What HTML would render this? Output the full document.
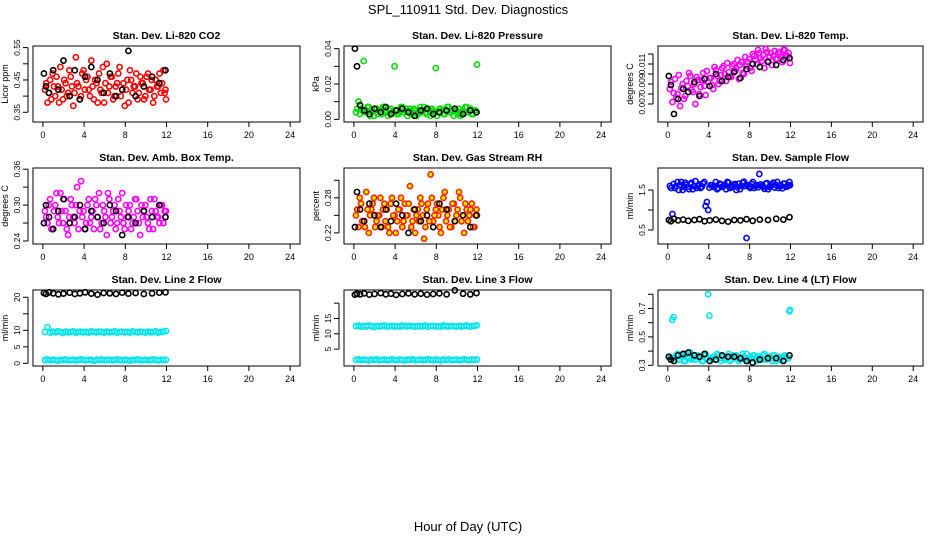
<!DOCTYPE html>
<html><head><meta charset="utf-8"><style>
body{margin:0;background:#fff;}
svg{display:block;font-family:"Liberation Sans",sans-serif;}
</style></head><body>
<svg id="c" width="936" height="540">
<text x="468" y="14" text-anchor="middle" font-size="13">SPL_110911  Std. Dev. Diagnostics</text>
<text x="468" y="531" text-anchor="middle" font-size="13">Hour of Day (UTC)</text>
</svg>
<script>
const tMain=[0.2,0.45,0.7,0.95,1.2,1.45,1.7,1.95,2.2,2.45,2.7,2.95,3.2,3.45,3.7,3.95,4.2,4.45,4.7,4.95,5.2,5.45,5.7,5.95,6.2,6.45,6.7,6.95,7.2,7.45,7.7,7.95,8.2,8.45,8.7,8.95,9.2,9.45,9.7,9.95,10.2,10.45,10.7,10.95,11.2,11.45,11.7,11.95];
const tSub=[0.32,0.57,0.82,1.07,1.32,1.57,1.82,2.07,2.32,2.57,2.82,3.07,3.32,3.57,3.82,4.07,4.32,4.57,4.82,5.07,5.32,5.57,5.82,6.07,6.32,6.57,6.82,7.07,7.32,7.57,7.82,8.07,8.32,8.57,8.82,9.07,9.32,9.57,9.82,10.07,10.32,10.57,10.82,11.07,11.32,11.57,11.82,11.9];
const tBlack=[0.1,0.3,0.6,1.0,1.5,2.0,2.6,3.1,3.6,4.1,4.7,5.3,5.9,6.5,7.1,7.7,8.3,9.0,9.8,10.6,11.3,11.9];
const xTicks=[0,4,8,12,16,20,24];

const co2Red=[0.42,0.38,0.45,0.47,0.40,0.43,0.49,0.39,0.44,0.41,0.46,0.37,0.52,0.43,0.40,0.48,0.45,0.42,0.51,0.39,0.44,0.47,0.41,0.38,0.50,0.43,0.46,0.40,0.44,0.49,0.42,0.37,0.45,0.48,0.41,0.43,0.39,0.46,0.44,0.40,0.47,0.42,0.38,0.45,0.43,0.41,0.48,0.39];
const co2Red2=[0.44,0.41,0.39,0.43,0.46,0.38,0.42,0.45,0.40,0.48,0.43,0.41,0.44,0.39,0.47,0.42,0.46,0.40,0.43,0.45,0.38,0.42,0.49,0.44,0.41,0.46,0.39,0.43,0.47,0.40,0.44,0.42,0.38,0.45,0.43,0.47,0.41,0.44,0.39,0.46,0.42,0.45,0.40,0.43,0.47,0.44,0.41,0.42];
const co2Black=[0.47,0.43,0.41,0.48,0.42,0.51,0.40,0.48,0.39,0.46,0.49,0.45,0.41,0.47,0.40,0.42,0.54,0.40,0.43,0.46,0.44,0.48];
const presGreen=[0.004,0.010,0.006,0.033,0.005,0.007,0.004,0.002,0.006,0.005,0.003,0.007,0.004,0.005,0.004,0.030,0.003,0.004,0.007,0.005,0.002,0.006,0.004,0.005,0.003,0.007,0.005,0.004,0.006,0.002,0.005,0.029,0.004,0.006,0.003,0.005,0.007,0.004,0.002,0.005,0.006,0.003,0.004,0.007,0.005,0.003,0.005,0.031];
const presGreen2=[0.006,0.003,0.005,0.004,0.007,0.002,0.005,0.006,0.003,0.004,0.007,0.005,0.002,0.006,0.004,0.005,0.003,0.007,0.004,0.006,0.005,0.003,0.006,0.002,0.005,0.004,0.007,0.003,0.005,0.006,0.004,0.002,0.006,0.005,0.003,0.007,0.004,0.005,0.006,0.003,0.002,0.005,0.007,0.004,0.006,0.003,0.005,0.004];
const presBlack=[0.040,0.030,0.008,0.005,0.003,0.006,0.004,0.007,0.003,0.005,0.006,0.004,0.002,0.005,0.006,0.003,0.004,0.005,0.006,0.003,0.005,0.004];
const tempMag=[0.0085,0.0072,0.0095,0.0080,0.0068,0.0090,0.0078,0.0088,0.0098,0.0082,0.0070,0.0094,0.0087,0.0101,0.0079,0.0092,0.0096,0.0085,0.0104,0.0090,0.0099,0.0108,0.0093,0.0102,0.0097,0.0110,0.0105,0.0095,0.0112,0.0100,0.0108,0.0115,0.0103,0.0118,0.0110,0.0121,0.0113,0.0106,0.0122,0.0117,0.0109,0.0123,0.0115,0.0120,0.0112,0.0124,0.0118,0.0111];
const tempMag2=[0.0092,0.0081,0.0076,0.0099,0.0086,0.0075,0.0093,0.0101,0.0084,0.0090,0.0097,0.0080,0.0094,0.0088,0.0103,0.0096,0.0089,0.0107,0.0098,0.0093,0.0106,0.0100,0.0111,0.0097,0.0108,0.0103,0.0114,0.0109,0.0101,0.0117,0.0112,0.0106,0.0120,0.0114,0.0124,0.0116,0.0119,0.0125,0.0113,0.0121,0.0118,0.0115,0.0122,0.0117,0.0124,0.0119,0.0121,0.0116];
const tempBlack=[0.0098,0.0089,0.0060,0.0075,0.0085,0.0082,0.0092,0.0078,0.0095,0.0088,0.0100,0.0093,0.0097,0.0102,0.0096,0.0105,0.0110,0.0107,0.0112,0.0109,0.0114,0.0116];
const boxMag=[0.29,0.27,0.31,0.26,0.30,0.28,0.32,0.27,0.29,0.25,0.31,0.28,0.30,0.26,0.34,0.29,0.27,0.31,0.28,0.26,0.30,0.32,0.27,0.29,0.25,0.31,0.28,0.30,0.27,0.29,0.32,0.26,0.28,0.30,0.27,0.31,0.29,0.25,0.28,0.30,0.27,0.31,0.26,0.29,0.28,0.30,0.27,0.29];
const boxMag2=[0.28,0.30,0.26,0.29,0.32,0.27,0.29,0.31,0.26,0.28,0.30,0.27,0.33,0.29,0.28,0.26,0.30,0.27,0.29,0.31,0.28,0.26,0.30,0.28,0.32,0.27,0.29,0.26,0.31,0.28,0.27,0.30,0.29,0.26,0.28,0.31,0.27,0.30,0.29,0.28,0.26,0.29,0.31,0.28,0.27,0.30,0.29,0.28];
const boxBlack=[0.27,0.30,0.28,0.26,0.29,0.31,0.27,0.28,0.30,0.26,0.29,0.28,0.27,0.30,0.29,0.25,0.28,0.27,0.29,0.28,0.30,0.28];
const rhOrange=[0.25,0.23,0.27,0.24,0.29,0.22,0.26,0.28,0.24,0.25,0.23,0.27,0.26,0.22,0.28,0.25,0.24,0.26,0.23,0.27,0.25,0.30,0.24,0.22,0.26,0.28,0.25,0.23,0.27,0.32,0.24,0.26,0.25,0.22,0.28,0.24,0.26,0.23,0.27,0.25,0.29,0.24,0.22,0.26,0.25,0.27,0.23,0.25];
const rhOrange2=[0.26,0.28,0.24,0.23,0.26,0.25,0.27,0.23,0.25,0.28,0.26,0.24,0.23,0.27,0.25,0.22,0.26,0.28,0.24,0.25,0.27,0.23,0.26,0.25,0.24,0.27,0.21,0.26,0.24,0.28,0.25,0.27,0.23,0.26,0.29,0.25,0.23,0.27,0.24,0.26,0.28,0.25,0.27,0.24,0.26,0.23,0.25,0.26];
const rhBlack=[0.23,0.29,0.26,0.24,0.27,0.25,0.23,0.26,0.24,0.27,0.25,0.22,0.26,0.24,0.25,0.23,0.27,0.26,0.24,0.25,0.23,0.25];
const flowBlue=[1.6,0.9,1.55,1.7,1.62,1.5,1.68,1.58,1.65,1.52,1.72,1.6,1.55,1.66,1.1,1.0,1.62,1.58,1.7,1.55,1.64,1.6,1.52,1.68,1.57,1.63,1.5,1.66,1.6,1.71,0.3,1.58,1.65,1.55,1.62,1.9,1.6,1.53,1.67,1.58,1.64,1.56,1.7,1.6,1.54,1.66,1.59,1.62];
const flowBlue2=[1.55,1.65,1.6,1.5,1.7,1.58,1.63,1.52,1.68,1.6,1.55,1.64,1.58,1.7,1.2,1.56,1.62,1.6,1.52,1.66,1.58,1.63,1.7,1.55,1.6,1.65,1.57,1.52,1.68,1.6,1.62,1.55,1.7,1.6,1.57,1.64,1.58,1.66,1.52,1.6,1.68,1.63,1.55,1.6,1.66,1.58,1.62,1.7];
const flowBlack=[0.75,0.72,0.78,0.74,0.76,0.73,0.75,0.77,0.72,0.74,0.76,0.73,0.71,0.75,0.74,0.77,0.73,0.76,0.75,0.78,0.76,0.82];
const l2CyanA=[9.5,11,9.3,9.6,9.4,9.7,9.5,9.2,9.6,9.4,9.5,9.7,9.3,9.5,9.6,9.4,9.5,9.3,9.7,9.5,9.4,9.6,9.5,9.3,9.6,9.4,9.5,9.7,9.3,9.5,9.6,9.4,9.5,9.3,9.7,9.5,9.4,9.6,9.5,9.3,9.6,9.4,9.5,9.7,9.3,9.5,9.6,9.8];
const l2CyanB=[1.0,1.2,0.9,1.1,1.0,0.8,1.1,1.0,1.2,0.9,1.0,1.1,0.9,1.0,1.2,1.0,0.9,1.1,1.0,0.8,1.1,1.0,1.2,0.9,1.0,1.1,0.9,1.0,1.2,1.0,0.9,1.1,1.0,0.8,1.1,1.0,1.2,0.9,1.0,1.1,0.9,1.0,1.2,1.0,0.9,1.1,1.0,1.1];
const l2Black=[21.3,21,21.5,21.2,20.9,21.1,21.4,21,21.2,21.5,21.1,20.8,21.3,21.2,21,21.4,21.1,21.3,21.0,21.2,21.4,21.5];
const l3CyanA=[12.5,12.7,12.3,12.6,12.4,12.7,12.5,12.2,12.6,12.4,12.5,12.7,12.3,12.5,12.6,12.4,12.5,12.3,12.7,12.5,12.4,12.6,12.5,12.3,12.6,12.4,12.5,12.7,12.3,12.5,12.6,12.4,12.5,12.3,12.7,12.5,12.4,12.6,12.5,12.3,12.6,12.4,12.5,12.7,12.3,12.5,12.6,12.8];
const l3CyanB=[1.5,1.7,1.4,1.6,1.5,1.3,1.6,1.5,1.7,1.4,1.5,1.6,1.4,1.5,1.7,1.5,1.4,1.6,1.5,1.3,1.6,1.5,1.7,1.4,1.5,1.6,1.4,1.5,1.7,1.5,1.4,1.6,1.5,1.3,1.6,1.5,1.7,1.4,1.5,1.6,1.4,1.5,1.7,1.5,1.4,1.6,1.5,1.6];
const l3Black=[22.8,23.1,22.9,23.2,22.8,23.0,23.3,22.9,23.1,22.7,23.0,23.2,22.9,23.1,22.8,23.0,23.2,22.9,24.2,23.1,22.9,23.3];
const l4Cyan=[0.36,0.62,0.35,0.38,0.34,0.37,0.33,0.36,0.39,0.35,0.34,0.37,0.36,0.33,0.38,0.80,0.35,0.36,0.34,0.37,0.33,0.36,0.35,0.38,0.34,0.36,0.37,0.33,0.35,0.36,0.38,0.34,0.35,0.37,0.33,0.36,0.34,0.38,0.35,0.36,0.33,0.37,0.35,0.34,0.36,0.37,0.35,0.69];
const l4Cyan2=[0.35,0.64,0.37,0.34,0.36,0.33,0.38,0.35,0.34,0.37,0.36,0.35,0.33,0.37,0.35,0.65,0.34,0.36,0.38,0.35,0.37,0.34,0.36,0.33,0.37,0.35,0.36,0.34,0.38,0.35,0.33,0.36,0.37,0.34,0.36,0.35,0.37,0.34,0.36,0.35,0.37,0.33,0.36,0.35,0.34,0.36,0.35,0.68];
const l4Black=[0.36,0.34,0.33,0.37,0.38,0.39,0.37,0.36,0.38,0.33,0.34,0.37,0.36,0.36,0.35,0.33,0.32,0.34,0.35,0.35,0.33,0.37];

const panels=[
 {name:'co2',title:'Stan. Dev. Li-820 CO2',ylab:'Licor ppm',col:0,row:0,yl:[0.32,0.555],yt:[0.35,0.40,0.45,0.50,0.55],ytl:['0.35','','0.45','','0.55'],
  s:[[tMain,co2Red,'#ff0000',null],[tSub,co2Red2,'#ff0000',null],[tBlack,co2Black,'#000',null]]},
 {name:'pressure',title:'Stan. Dev. Li-820 Pressure',ylab:'kPa',col:1,row:0,yl:[-0.0015,0.0415],yt:[0,0.01,0.02,0.03,0.04],ytl:['0.00','','0.02','','0.04'],
  s:[[tMain,presGreen,'#00dd00',null],[tSub,presGreen2,'#00dd00',null],[tBlack,presBlack,'#000',null]]},
 {name:'temp',title:'Stan. Dev. Li-820 Temp.',ylab:'degrees C',col:2,row:0,yl:[0.0052,0.0128],yt:[0.007,0.008,0.009,0.010,0.011,0.012],ytl:['0.007','','0.009','','0.011',''],
  s:[[tMain,tempMag,'#ff00ff',null],[tSub,tempMag2,'#ff00ff',null],[tBlack,tempBlack,'#000',null]]},
 {name:'box-temp',title:'Stan. Dev. Amb. Box Temp.',ylab:'degrees C',col:0,row:1,yl:[0.235,0.362],yt:[0.24,0.27,0.30,0.33,0.36],ytl:['0.24','','0.30','','0.36'],
  s:[[tMain,boxMag,'#ff00ff',null],[tSub,boxMag2,'#ff00ff',null],[tBlack,boxBlack,'#000',null]]},
 {name:'gas-rh',title:'Stan. Dev. Gas Stream RH',ylab:'percent',col:1,row:1,yl:[0.201,0.331],yt:[0.22,0.25,0.28,0.31],ytl:['0.22','','0.28',''],
  s:[[tMain,rhOrange,'#ff2200','#ffee00'],[tSub,rhOrange2,'#ff2200','#ffee00'],[tBlack,rhBlack,'#000',null]]},
 {name:'sample-flow',title:'Stan. Dev. Sample Flow',ylab:'ml/min',col:2,row:1,yl:[0.15,2.05],yt:[0.5,1.0,1.5],ytl:['0.5','','1.5'],
  s:[[tMain,flowBlue,'#0000ff',null],[tSub,flowBlue2,'#0000ff',null],[tBlack,flowBlack,'#000',null]]},
 {name:'line2-flow',title:'Stan. Dev. Line 2 Flow',ylab:'ml/min',col:0,row:2,yl:[-0.8,22.2],yt:[0,5,10,15,20],ytl:['0','5','10','','20'],
  s:[[tMain,l2CyanA,'#00e5ee',null],[tMain,l2CyanB,'#00e5ee',null],[tBlack,l2Black,'#000',null]]},
 {name:'line3-flow',title:'Stan. Dev. Line 3 Flow',ylab:'ml/min',col:1,row:2,yl:[-0.5,24.3],yt:[5,10,15,20],ytl:['5','10','15',''],
  s:[[tMain,l3CyanA,'#00e5ee',null],[tMain,l3CyanB,'#00e5ee',null],[tBlack,l3Black,'#000',null]]},
 {name:'line4-flow',title:'Stan. Dev. Line 4 (LT) Flow',ylab:'ml/min',col:2,row:2,yl:[0.295,0.83],yt:[0.3,0.4,0.5,0.6,0.7,0.8],ytl:['0.3','','0.5','','0.7',''],
  s:[[tMain,l4Cyan,'#00e5ee',null],[tSub,l4Cyan2,'#00e5ee',null],[tBlack,l4Black,'#000',null]]}
];
const svg=document.getElementById('c');
const NS='http://www.w3.org/2000/svg';
const colL=[33,344,658], colW=[267,267,265], rowT=[46,168,290], H=76;
function mk(tag,at,parent){const e=document.createElementNS(NS,tag);for(const k in at)e.setAttribute(k,at[k]);parent.appendChild(e);return e;}
panels.forEach(p=>{
  const L=colL[p.col],W=colW[p.col],T=rowT[p.row];
  const xs=v=>L+(v+0.96)/25.92*W;
  const ys=v=>T+H-(v-p.yl[0])/(p.yl[1]-p.yl[0])*H;
  const g=mk('g',{},svg);
  
  
  const tt=mk('text',{x:L+W/2,y:T-7,'text-anchor':'middle','font-size':'10.5','font-weight':'bold'},g);
  tt.textContent=p.title;
  
  
  const fr=mk('rect',{x:L,y:T,width:W,height:H,fill:'none',stroke:'#000','stroke-width':1},g);
  
  
  xTicks.forEach(v=>{
    const x=xs(v);
    mk('line',{x1:x,x2:x,y1:T+H,y2:T+H+5,stroke:'#000'},g);
    const t=mk('text',{x:x,y:T+H+16,'text-anchor':'middle','font-size':'9'},g);
    t.textContent=v;
    
    
  });
  mk('line',{x1:L-5,x2:L-5,y1:ys(p.yt[0]),y2:ys(p.yt[p.yt.length-1]),stroke:'#000'},g);
  p.yt.forEach((v,i)=>{
    const y=ys(v);
    mk('line',{x1:L-5,x2:L-10,y1:y,y2:y,stroke:'#000'},g);
    if(p.ytl[i]){
      const t=mk('text',{x:L-13,y:y,'text-anchor':'middle','font-size':'8.5',transform:`rotate(-90 ${L-13} ${y})`},g);
      t.textContent=p.ytl[i];
      
      
    }
  });
  const yl=mk('text',{x:L-25,y:T+H/2,'text-anchor':'middle','font-size':'9',transform:`rotate(-90 ${L-25} ${T+H/2})`},g);
  yl.textContent=p.ylab;
  
  
  p.s.forEach((s,si)=>{
    const sg=mk('g',{},g);
    
    
    s[0].forEach((tv,i)=>{
      const c=mk('circle',{cx:xs(tv),cy:ys(s[1][i]),r:2.6,fill:s[3]||'none',stroke:s[2],'stroke-width':1.6},sg);
      
      
    });
  });
});
</script>
</body></html>
